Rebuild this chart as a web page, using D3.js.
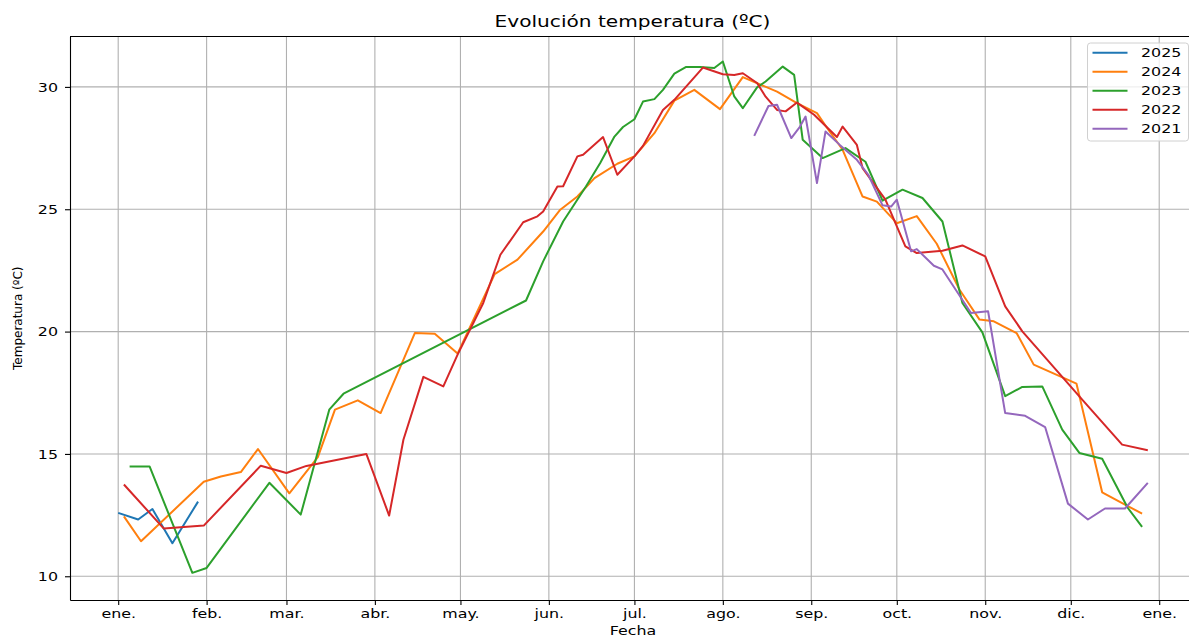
<!DOCTYPE html>
<html>
<head>
<meta charset="utf-8">
<script src="https://cdn.jsdelivr.net/npm/d3@7"></script>
<style>
  body { margin: 0; background: #fff; overflow: hidden; }
  text { font-family: "DejaVu Sans", sans-serif; }
</style>
</head>
<body>
<div id="my_dataviz"></div>
<script>
// weekly mean temperature, one array per year (dates as mm-dd)
var years = ["2025", "2024", "2023", "2022", "2021"];

var dates2025 = ["01-01","01-08","01-13","01-20","01-29"];
var temps2025 = [12.59,12.32,12.75,11.35,13.05];

var dates2024 = ["01-03","01-09","01-31","02-06","02-13","02-19","03-02","03-12","03-18","03-26",
                 "04-03","04-15","04-22","04-30","05-13","05-21","05-30","06-05","06-11","06-17",
                 "06-25","07-01","07-08","07-15","07-22","07-31","08-08","08-20","08-27","09-03",
                 "09-07","09-12","09-19","09-24","10-01","10-08","10-15","10-23","10-30","11-04",
                 "11-12","11-18","12-03","12-12","12-20","12-26"];
var temps2024 = [12.45,11.43,13.86,14.08,14.26,15.2,13.39,14.87,16.81,17.19,
                 16.67,19.94,19.91,19.1,22.35,22.94,24.09,24.98,25.52,26.27,
                 26.86,27.16,28.11,29.44,29.88,29.09,30.4,29.81,29.34,28.93,
                 28.25,27.43,25.52,25.31,24.43,24.72,23.59,21.71,20.49,20.42,
                 19.94,18.65,17.87,13.43,12.93,12.56];

var dates2023 = ["01-05","01-12","01-27","02-01","02-23","03-06","03-16","03-21","05-24","05-30",
                 "06-06","06-14","06-19","06-24","06-27","07-01","07-04","07-08","07-11","07-15",
                 "07-19","07-24","07-29","08-01","08-05","08-08","08-13","08-16","08-22","08-26",
                 "08-29","09-05","09-13","09-20","09-26","10-03","10-10","10-17","10-24","10-31",
                 "11-08","11-14","11-21","11-28","12-04","12-12","12-21","12-26"];
var temps2023 = [14.49,14.49,10.14,10.34,13.82,12.52,16.81,17.46,21.27,22.87,
                 24.5,25.93,26.89,27.97,28.36,28.68,29.4,29.5,29.88,30.54,
                 30.81,30.81,30.77,31.04,29.61,29.13,29.98,30.22,30.83,30.49,
                 27.84,27.09,27.5,26.94,25.35,25.8,25.46,24.5,21.17,19.97,
                 17.36,17.74,17.76,15.99,15.04,14.8,12.79,12.02];

var dates2022 = ["01-03","01-17","01-31","02-20","03-01","03-08","03-29","04-06","04-11","04-18",
                 "04-25","04-30","05-09","05-15","05-23","05-28","05-30","06-04","06-06","06-11",
                 "06-13","06-20","06-25","07-01","07-04","07-11","07-15","07-23","07-25","08-01",
                 "08-05","08-08","08-13","08-16","08-20","08-23","08-27","09-02","09-10","09-12",
                 "09-17","09-19","09-27","10-04","10-08","10-17","10-24","11-01","11-08","11-14",
                 "12-05","12-19","12-28"];
var temps2022 = [13.75,11.95,12.07,14.52,14.22,14.51,15.0,12.48,15.58,18.15,
                 17.76,19.06,21.17,23.14,24.47,24.71,24.91,25.93,25.94,27.16,
                 27.23,27.95,26.41,27.16,27.59,29.06,29.47,30.52,30.79,30.52,
                 30.49,30.56,30.16,29.6,29.06,29.0,29.36,28.86,27.95,28.38,
                 27.63,26.68,25.39,23.48,23.21,23.3,23.52,23.07,21.03,20.01,
                 17.22,15.38,15.15];

var dates2021 = ["08-12","08-17","08-20","08-25","08-28","08-30","09-03","09-06","09-11","09-17",
                 "09-21","09-26","09-29","10-01","10-06","10-08","10-14","10-17","10-27","11-02",
                 "11-08","11-15","11-22","11-30","12-07","12-13","12-20","12-28"];
var temps2021 = [28.0,29.22,29.27,27.91,28.37,28.79,26.07,28.18,27.63,27.02,
                 26.41,25.16,25.11,25.39,23.28,23.37,22.69,22.54,20.76,20.83,
                 16.67,16.56,16.1,12.97,12.32,12.77,12.77,13.82];

var monthLabels = ["ene.","feb.","mar.","abr.","may.","jun.","jul.","ago.","sep.","oct.","nov.","dic.","ene."];
var yTicks = [10, 15, 20, 25, 30];

var seriesDates = [dates2025, dates2024, dates2023, dates2022, dates2021];
var seriesTemps = [temps2025, temps2024, temps2023, temps2022, temps2021];
var colors = ["#1f77b4", "#ff7f0e", "#2ca02c", "#d62728", "#9467bd"];

// the source picture is stretched sideways, so text is widened to match
var SX = 1.22;

// set the dimensions and margins of the graph
var margin = {top: 36.5, right: 0, bottom: 37, left: 70},
    width = 1126,
    height = 600 - margin.top;

var svg = d3.select("#my_dataviz")
  .append("svg")
    .attr("width", 1189)
    .attr("height", 637)
  .append("g")
    .attr("transform", "translate(" + margin.left + "," + margin.top + ")");

var parse = d3.timeParse("%m-%d");
var DAY = 864e5;
var jan1 = parse("01-01");

// x axis runs a bit before and after the calendar year
var x = d3.scaleTime()
  .domain([new Date(+jan1 - 16.9 * DAY), new Date(+jan1 + 377.9 * DAY)])
  .range([0, width]);

var y = d3.scaleLinear()
  .domain([9.03, 32.06])
  .range([height, 0]);

var monthTicks = d3.timeMonth.range(jan1, new Date(+jan1 + 366 * DAY));

// grid
svg.append("g")
  .selectAll("line.vgrid")
  .data(monthTicks)
  .enter().append("line")
    .attr("x1", function(d) { return x(d); })
    .attr("x2", function(d) { return x(d); })
    .attr("y1", 0).attr("y2", height)
    .attr("stroke", "#b0b0b0").attr("stroke-width", 1.1);

svg.append("g")
  .selectAll("line.hgrid")
  .data(yTicks)
  .enter().append("line")
    .attr("x1", 0).attr("x2", width)
    .attr("y1", function(d) { return y(d); })
    .attr("y2", function(d) { return y(d); })
    .attr("stroke", "#b0b0b0").attr("stroke-width", 1.1);

// axes
var xAxis = svg.append("g")
  .attr("transform", "translate(0," + height + ")")
  .call(d3.axisBottom(x)
    .tickValues(monthTicks)
    .tickFormat(function(d, i) { return monthLabels[i]; })
    .tickSize(5).tickPadding(4).tickSizeOuter(0));

var yAxis = svg.append("g")
  .call(d3.axisLeft(y)
    .tickValues(yTicks)
    .tickSize(5).tickPadding(7).tickSizeOuter(0));

[xAxis, yAxis].forEach(function(a) {
  a.select(".domain").attr("stroke", "#000").attr("stroke-width", 1.1);
  a.selectAll(".tick line").attr("stroke", "#000").attr("stroke-width", 1.1);
  a.selectAll(".tick text")
    .style("font-family", "DejaVu Sans")
    .style("font-size", "13px")
    .attr("fill", "#000");
});
xAxis.selectAll(".tick text").attr("transform", "scale(" + SX + ",1)");
yAxis.selectAll(".tick text")
  .attr("x", -12 / SX)
  .attr("transform", "scale(" + SX + ",1)");

// top and right spines
svg.append("line").attr("x1", 0).attr("x2", width).attr("y1", 0).attr("y2", 0)
  .attr("stroke", "#000").attr("stroke-width", 1.1);
svg.append("line").attr("x1", width).attr("x2", width).attr("y1", 0).attr("y2", height)
  .attr("stroke", "#000").attr("stroke-width", 1.1);

// lines
var line = d3.line()
  .x(function(d) { return x(d.date); })
  .y(function(d) { return y(d.temp); });

var series = years.map(function(yr, i) {
  return {
    key: yr,
    values: seriesDates[i].map(function(s, j) {
      return {date: parse(s), temp: seriesTemps[i][j]};
    })
  };
});

svg.append("g")
  .selectAll("path")
  .data(series)
  .enter().append("path")
    .attr("class", "stream")
    .attr("fill", "none")
    .attr("stroke", function(d, i) { return colors[i]; })
    .attr("stroke-width", 2)
    .attr("stroke-linejoin", "round")
    .attr("d", function(d) { return line(d.values); });

// titles
svg.append("text")
  .attr("transform", "translate(" + (width / 2 - 0.5) + "," + (-10) + ") scale(" + SX + ",1)")
  .attr("text-anchor", "middle")
  .style("font-size", "16.5px")
  .text("Evolución temperatura (ºC)");

svg.append("text")
  .attr("transform", "translate(" + (width / 2) + "," + (height + 35) + ") scale(" + SX + ",1)")
  .attr("text-anchor", "middle")
  .style("font-size", "13px")
  .text("Fecha");

svg.append("text")
  .attr("transform", "translate(" + (-48) + "," + (height / 2) + ") rotate(-90)")
  .attr("text-anchor", "middle")
  .style("font-size", "12px")
  .text("Temperatura (ºC)");

// ----- LEGEND -----
var lg = svg.append("g")
  .attr("transform", "translate(" + (1087.5 - margin.left) + "," + (43 - margin.top) + ")");

lg.append("rect")
  .attr("width", 101).attr("height", 98)
  .attr("rx", 3)
  .attr("fill", "#fff").attr("fill-opacity", 0.8)
  .attr("stroke", "#d0d0d0").attr("stroke-width", 1);

var legend = lg.selectAll(".legend")
  .data(years)
  .enter().append("g")
    .attr("class", "legend")
    .attr("transform", function(d, i) { return "translate(0," + (9.7 + i * 19) + ")"; });

legend.append("line")
  .attr("x1", 5).attr("x2", 40)
  .attr("stroke", function(d, i) { return colors[i]; })
  .attr("stroke-width", 2);

legend.append("text")
  .attr("transform", "translate(53.5,0) scale(" + SX + ",1)")
  .attr("dy", "0.35em")
  .style("font-size", "13px")
  .text(function(d) { return d; });
</script>
</body>
</html>
